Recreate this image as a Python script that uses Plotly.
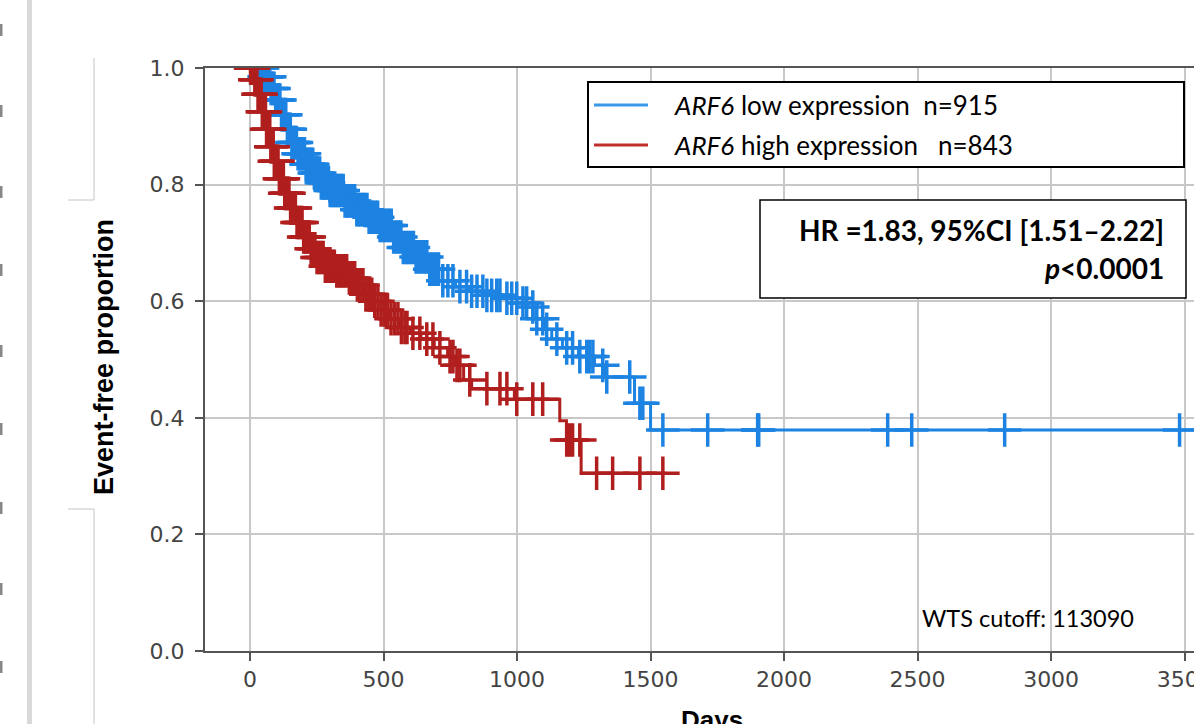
import numpy as np
import plotly.graph_objects as go

# Kaplan-Meier steps (days, event-free proportion)
low_t = [0, 50, 75, 95, 115, 135, 155, 180, 210, 240, 262, 300, 350, 400, 440, 480, 530, 570,
         620, 670, 720, 770, 820, 880, 940, 1000, 1040, 1070, 1100, 1130, 1170, 1230, 1290,
         1330, 1440, 1500]
low_s = [1.0, 0.985, 0.965, 0.945, 0.92, 0.895, 0.872, 0.853, 0.835, 0.82, 0.803, 0.79, 0.772,
         0.757, 0.744, 0.73, 0.71, 0.692, 0.676, 0.655, 0.635, 0.625, 0.617, 0.61, 0.605, 0.597,
         0.59, 0.57, 0.552, 0.535, 0.52, 0.505, 0.49, 0.47, 0.425, 0.379]
low_end = 3600

high_t = [0, 15, 30, 45, 60, 75, 90, 110, 130, 150, 175, 200, 225, 250, 280, 320, 370, 400,
          430, 460, 490, 520, 560, 600, 640, 690, 740, 770, 800, 830, 990, 1160, 1185, 1240]
high_s = [1.0, 0.98, 0.955, 0.925, 0.895, 0.865, 0.84, 0.81, 0.785, 0.76, 0.735, 0.71, 0.69,
          0.675, 0.66, 0.652, 0.64, 0.628, 0.612, 0.6, 0.585, 0.57, 0.555, 0.545, 0.535, 0.52,
          0.505, 0.49, 0.465, 0.45, 0.432, 0.395, 0.362, 0.305]
high_end = 1560

# censored observations (tick marks)
low_cens = [3, 9, 14, 19, 25, 31, 36, 41, 47, 53, 58, 63, 69, 74, 79, 85, 90, 96, 101, 107, 112,
            118, 123, 129, 134, 140, 146, 151, 157, 163, 168, 174, 180, 186, 192, 198, 204, 210,
            216, 222, 229, 235, 241, 248, 254, 261, 267, 274, 280, 287, 294, 300, 307, 314, 321,
            328, 335, 342, 349, 356, 363, 370, 378, 385, 392, 400, 407, 415, 422, 430, 438, 446,
            454, 462, 470, 478, 487, 495, 503, 512, 520, 529, 538, 547, 556, 565, 574, 584, 593,
            603, 612, 622, 632, 642, 652, 662, 673, 684, 695, 706, 722, 741, 760, 786, 811, 830,
            850, 872, 887, 905, 924, 936, 962, 980, 999, 1022, 1036, 1059, 1074, 1096, 1111,
            1149, 1186, 1208, 1235, 1261, 1272, 1284, 1321, 1336, 1422, 1460, 1471, 1546, 1714,
            1901, 1905, 2388, 2478, 2826, 3481]
high_cens = [2, 6, 10, 14, 18, 22, 26, 30, 34, 38, 42, 46, 50, 54, 58, 62, 66, 70, 74, 78, 82,
             87, 91, 96, 100, 105, 110, 115, 120, 125, 130, 135, 141, 146, 152, 158, 164, 170,
             176, 182, 188, 195, 201, 208, 215, 222, 229, 236, 243, 251, 258, 266, 274, 282, 290,
             298, 307, 316, 325, 334, 343, 352, 362, 372, 382, 392, 402, 412, 423, 434, 445, 456,
             467, 479, 491, 503, 515, 528, 541, 554, 567, 580, 588, 610, 636, 662, 685, 711, 749,
             760, 775, 786, 823, 887, 936, 962, 999, 1059, 1096, 1186, 1197, 1208, 1235, 1298,
             1358, 1460, 1546]

x_ticks = [0, 500, 1000, 1500, 2000, 2500, 3000, 3500]
y_ticks = [0.0, 0.2, 0.4, 0.6, 0.8, 1.0]

BLUE = "#1d83e2"
RED = "#b01e1e"


def surv_at(t, s, times):
    idx = np.searchsorted(t, times, side="right") - 1
    return np.array(s)[idx]


# pixel -> paper helpers (plot area is 205..1194 x 68..651)
W, H = 1194, 724
L, T, B = 205, 68, 651


def px(x):
    return (x - L) / (W - L)


def py(y):
    return (B - y) / (B - T)


fig = go.Figure()
for t, s, end, cens, col in [(low_t, low_s, low_end, low_cens, BLUE),
                             (high_t, high_s, high_end, high_cens, RED)]:
    fig.add_trace(go.Scatter(x=t + [end], y=s + [s[-1]], mode="lines", line_shape="hv",
                             line=dict(color=col, width=3), showlegend=False, hoverinfo="skip"))
    fig.add_trace(go.Scatter(x=cens, y=surv_at(t, s, cens), mode="markers",
                             marker=dict(symbol="cross-thin", size=24,
                                         line=dict(color=col, width=3.5)),
                             showlegend=False, hoverinfo="skip"))

axis_common = dict(showline=True, linecolor="#555555", linewidth=2, ticks="outside",
                   ticklen=8, tickwidth=2, tickcolor="#555555", showgrid=True,
                   gridcolor="#c8c8c8", gridwidth=2, zeroline=False, automargin=False,
                   tickfont=dict(family="DejaVu Sans", size=22, color="#444444"))
fig.update_xaxes(range=[-168.5, 3535], tickvals=x_ticks, mirror=True,
                 ticklabeloverflow="allow", **axis_common)
fig.update_yaxes(range=[0, 1], tickvals=y_ticks, tickformat=".1f", ticklabelstandoff=6,
                 **axis_common)

shapes = [
    # legend box and lines
    dict(type="rect", xref="paper", yref="paper", x0=px(588), x1=px(1184), y0=py(167), y1=py(82),
         line=dict(color="black", width=2), fillcolor="white"),
    dict(type="line", xref="paper", yref="paper", x0=px(594), x1=px(648), y0=py(105), y1=py(105),
         line=dict(color="#3a98e8", width=3)),
    dict(type="line", xref="paper", yref="paper", x0=px(594), x1=px(648), y0=py(145), y1=py(145),
         line=dict(color="#c0302b", width=3)),
    # HR box
    dict(type="rect", xref="paper", yref="paper", x0=px(760), x1=px(1186), y0=py(298), y1=py(200),
         line=dict(color="black", width=1.5), fillcolor="white"),
    # slide artefacts on the left
    dict(type="rect", xref="paper", yref="paper", x0=px(27), x1=px(32), y0=py(724), y1=py(0),
         line=dict(width=0), fillcolor="#d9d9d9"),
    dict(type="path", xref="paper", yref="paper",
         path=f"M {px(94)} {py(58)} L {px(94)} {py(200)} L {px(68)} {py(200)}",
         line=dict(color="#c4c4c4", width=1)),
    dict(type="path", xref="paper", yref="paper",
         path=f"M {px(68)} {py(509)} L {px(94)} {py(509)} L {px(94)} {py(724)}",
         line=dict(color="#c4c4c4", width=1)),
]
for yy in [30, 111, 192, 270, 351, 429, 508, 589, 667]:
    shapes.append(dict(type="line", xref="paper", yref="paper", x0=px(1), x1=px(1),
                       y0=py(yy - 6), y1=py(yy + 6), line=dict(color="#888888", width=3)))

cal = "Lato"
annotations = [
    dict(x=px(672), y=py(105), xanchor="left", yanchor="middle",
         text="<i>ARF6</i> low expression\u00a0\u00a0n=915",
         font=dict(family=cal, size=26, color="black")),
    dict(x=px(672), y=py(145), xanchor="left", yanchor="middle",
         text="<i>ARF6</i> high expression\u00a0\u00a0\u00a0n=843",
         font=dict(family=cal, size=26, color="black")),
    dict(x=px(1166), y=py(230), xanchor="right", yanchor="middle",
         text="<b>HR =1.83, 95%CI [1.51–2.22]</b>",
         font=dict(family=cal, size=28, color="black")),
    dict(x=px(1166), y=py(268), xanchor="right", yanchor="middle",
         text="<b><i>p</i>&lt;0.0001</b>",
         font=dict(family=cal, size=28, color="black")),
    dict(x=px(920), y=py(618), xanchor="left", yanchor="middle",
         text="WTS cutoff: 113090",
         font=dict(family=cal, size=23.5, color="black")),
    dict(x=px(104), y=py(357), xanchor="center", yanchor="middle", textangle=-90,
         text="<b>Event-free proportion</b>",
         font=dict(family="Liberation Sans", size=27, color="black")),
    dict(x=px(712), y=py(703), xanchor="center", yanchor="top",
         text="<b>Days</b>",
         font=dict(family="Liberation Sans", size=26, color="black")),
]
for a in annotations:
    a.update(xref="paper", yref="paper", showarrow=False)

fig.update_layout(width=W, height=H, margin=dict(l=L, r=0, t=T, b=H - B, autoexpand=False),
                  plot_bgcolor="white", paper_bgcolor="white",
                  shapes=shapes, annotations=annotations)

fig.write_html("out.html", config={"displayModeBar": False},
               post_script="document.body.style.margin='0px';"
                           "document.body.style.overflow='hidden';")
